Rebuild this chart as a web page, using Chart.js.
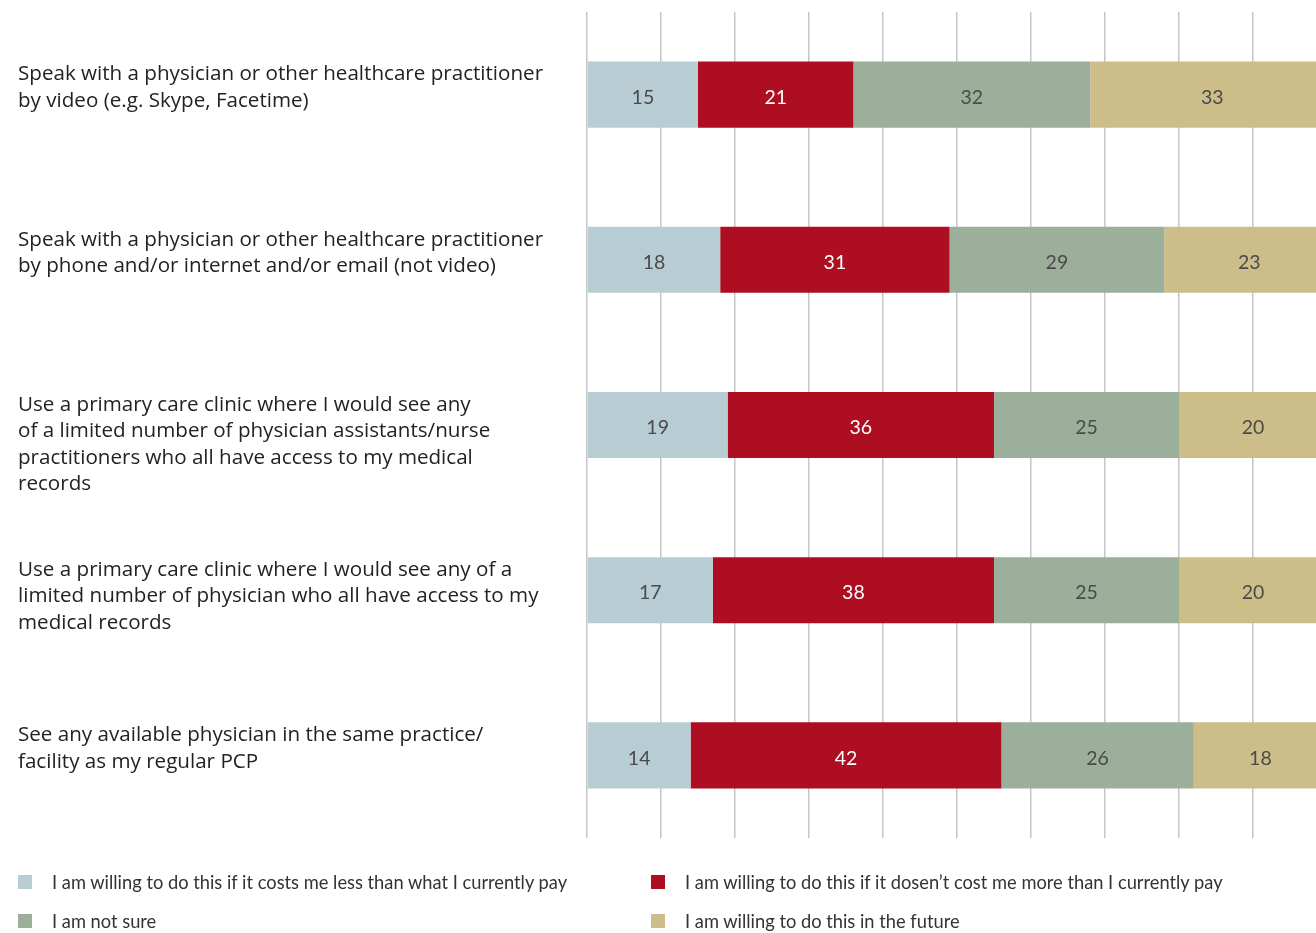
<!DOCTYPE html>
<html>
<head>
<meta charset="utf-8">
<script src="https://cdn.jsdelivr.net/npm/chart.js@4/dist/chart.umd.min.js"></script>
<style>
  html, body { margin: 0; padding: 0; background: #fff; overflow: hidden; }
  #wrap { position: relative; width: 1316px; height: 933px; overflow: hidden; }
  #chartBox { position: absolute; left: 0; top: 0; width: 1330px; height: 850px; }
  #legend { position: absolute; left: 0; top: 0; width: 1316px; height: 933px; pointer-events: none;
            font-family: Lato, "Noto Sans", sans-serif; font-size: 18.3px; color: #333; }
  .item { position: absolute; display: flex; align-items: center; white-space: nowrap; }
  .swatch { width: 14px; height: 14px; margin-right: 20px; }
</style>
</head>
<body>
<div id="wrap">
  <div id="chartBox"><canvas id="c" width="1330" height="850"></canvas></div>
  <div id="legend"></div>
</div>
<script>
// Survey statements (one per bar), each split into its printed lines
const categories = [
  ["Speak with a physician or other healthcare practitioner", "by video (e.g. Skype, Facetime)"],
  ["Speak with a physician or other healthcare practitioner", "by phone and/or internet and/or email (not video)"],
  ["Use a primary care clinic where I would see any", "of a limited number of physician assistants/nurse", "practitioners who all have access to my medical", "records"],
  ["Use a primary care clinic where I would see any of a", "limited number of physician who all have access to my", "medical records"],
  ["See any available physician in the same practice/", "facility as my regular PCP"]
];

const seriesNames = [
  "I am willing to do this if it costs me less than what I currently pay",
  "I am willing to do this if it dosen\u2019t cost me more than I currently pay",
  "I am not sure",
  "I am willing to do this in the future"
];

// Percent of respondents
const costsLess    = [15, 18, 19, 17, 14];
const costsNoMore  = [21, 31, 36, 38, 42];
const notSure      = [32, 29, 25, 25, 26];
const inFuture     = [33, 23, 20, 20, 18];

const seriesColors = ["#b8ccd3", "#ae0e22", "#9caf9b", "#cdbe89"];
const labelColors  = ["#4a4a4a", "#ffffff", "#4a4a4a", "#4a4a4a"];

const seriesValues = [costsLess, costsNoMore, notSure, inFuture];

const LABEL_FONT = '"Open Sans", "Noto Sans", sans-serif';
const VALUE_FONT = 'Lato, "Noto Sans", sans-serif';

// Statement text on the left, top-aligned with each bar
const categoryLabels = {
  id: 'categoryLabels',
  afterDraw(chart) {
    const ctx = chart.ctx;
    const y = chart.scales.y;
    ctx.save();
    ctx.font = '20.6px ' + LABEL_FONT;
    ctx.fillStyle = '#222';
    ctx.textAlign = 'left';
    ctx.textBaseline = 'middle';
    categories.forEach((lines, i) => {
      const cy = y.getPixelForValue(i);
      lines.forEach((line, k) => {
        ctx.fillText(line, 18, cy - 20 + k * 26.4);
      });
    });
    ctx.restore();
  }
};

// Value printed in the middle of every segment
const segmentValues = {
  id: 'segmentValues',
  afterDatasetsDraw(chart) {
    const ctx = chart.ctx;
    ctx.save();
    ctx.font = '19.5px ' + VALUE_FONT;
    ctx.textAlign = 'center';
    ctx.textBaseline = 'middle';
    chart.data.datasets.forEach((ds, di) => {
      const meta = chart.getDatasetMeta(di);
      meta.data.forEach((bar, i) => {
        const p = bar.getProps(['x', 'y', 'base'], true);
        ctx.fillStyle = labelColors[di];
        ctx.fillText(String(ds.data[i]), (p.x + p.base) / 2, p.y + 3);
      });
    });
    ctx.restore();
  }
};

new Chart(document.getElementById('c'), {
  type: 'bar',
  data: {
    labels: categories.map(l => l.join(' ')),
    datasets: seriesNames.map((name, i) => ({
      label: name,
      data: seriesValues[i],
      backgroundColor: seriesColors[i],
      borderWidth: 0,
      barPercentage: 0.8,
      categoryPercentage: 0.5
    }))
  },
  options: {
    indexAxis: 'y',
    responsive: false,
    animation: false,
    events: [],
    layout: { padding: { left: 587, right: 3, top: 12, bottom: 12 } },
    plugins: { legend: { display: false }, tooltip: { enabled: false } },
    scales: {
      x: {
        stacked: true,
        min: 0,
        max: 100,
        ticks: { display: false, stepSize: 10 },
        grid: { color: '#c6c6c6', lineWidth: 1.5, drawTicks: false },
        border: { display: false }
      },
      y: {
        stacked: true,
        display: false
      }
    }
  },
  plugins: [categoryLabels, segmentValues]
});

// Two-column legend under the plot
const legendPos = [
  { x: 18,  y: 882 },
  { x: 651, y: 882 },
  { x: 18,  y: 921 },
  { x: 651, y: 921 }
];
const legend = document.getElementById('legend');
seriesNames.forEach((name, i) => {
  const item = document.createElement('div');
  item.className = 'item';
  item.style.left = legendPos[i].x + 'px';
  item.style.top = (legendPos[i].y - 11) + 'px';
  item.style.height = '22px';
  const sw = document.createElement('span');
  sw.className = 'swatch';
  sw.style.background = seriesColors[i];
  const tx = document.createElement('span');
  tx.textContent = name;
  item.appendChild(sw);
  item.appendChild(tx);
  legend.appendChild(item);
});
</script>
</body>
</html>
